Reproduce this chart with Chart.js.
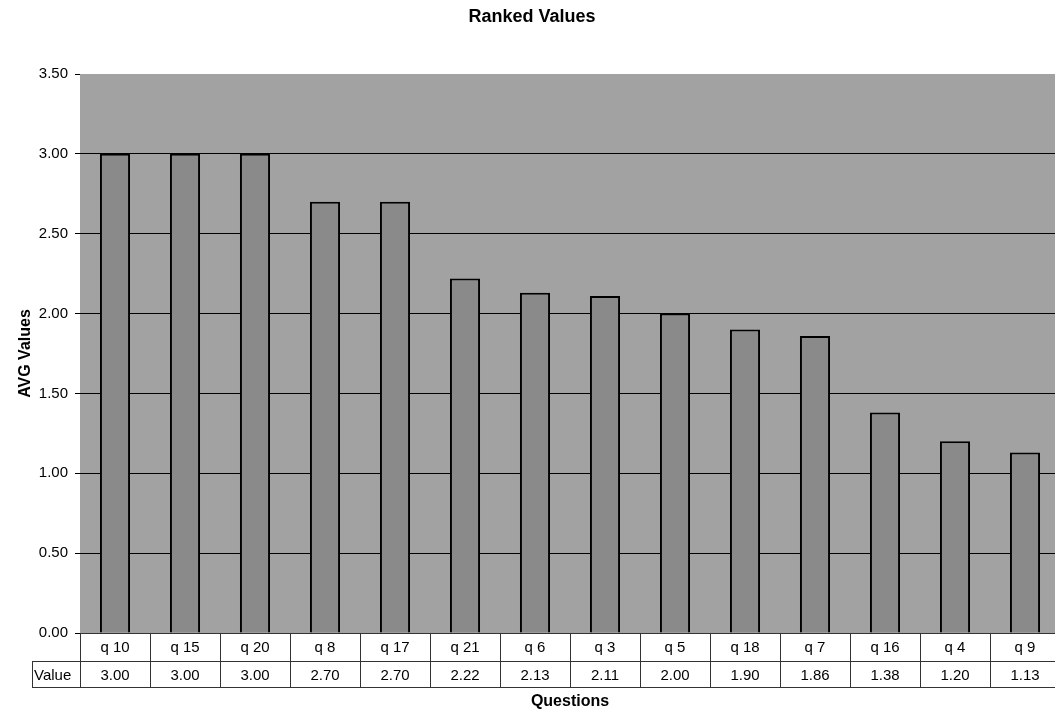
<!DOCTYPE html>
<html>
<head>
<meta charset="utf-8">
<script src="https://cdn.jsdelivr.net/npm/chart.js@4.4.0/dist/chart.umd.min.js"></script>
<style>
html,body{margin:0;padding:0;background:#fff;overflow:hidden;}
#wrap{width:1060px;height:711px;}
</style>
</head>
<body>
<div id="wrap"><canvas id="c" width="1060" height="711"></canvas></div>
<script>
const categories = ["q 10","q 15","q 20","q 8","q 17","q 21","q 6","q 3","q 5","q 18","q 7","q 16","q 4","q 9"];
const values = [3.00,3.00,3.00,2.70,2.70,2.22,2.13,2.11,2.00,1.90,1.86,1.38,1.20,1.13];
const seriesName = "Value";
const chartTitle = "Ranked Values";
const yTitle = "AVG Values";
const xTitle = "Questions";

const FONT = "Arial, 'Liberation Sans', sans-serif";

const plotBg = {
  id: 'plotBg',
  beforeDraw(chart) {
    const {ctx, chartArea: a} = chart;
    ctx.save();
    ctx.fillStyle = '#a2a2a2';
    ctx.fillRect(a.left, a.top, a.right - a.left, a.bottom - a.top);
    ctx.restore();
  }
};

const extras = {
  id: 'extras',
  afterDraw(chart) {
    const {ctx, chartArea: a} = chart;
    const x = chart.scales.x;
    ctx.save();
    ctx.fillStyle = '#000';
    ctx.textAlign = 'center';
    ctx.textBaseline = 'middle';
    ctx.font = 'bold 18px ' + FONT;
    ctx.fillText(chartTitle, 532, 17);
    ctx.font = 'bold 16px ' + FONT;
    ctx.fillText(xTitle, (a.left + a.right) / 2, 702);
    ctx.save();
    ctx.translate(26, (a.top + a.bottom) / 2);
    ctx.rotate(-Math.PI / 2);
    ctx.fillText(yTitle, 0, 0);
    ctx.restore();

    // data table
    const row1Top = a.bottom, row1Bot = a.bottom + 28, row2Bot = a.bottom + 54;
    const n = categories.length;
    const cw = (a.right - a.left) / n;
    ctx.strokeStyle = '#333';
    ctx.lineWidth = 1;
    ctx.beginPath();
    ctx.moveTo(a.left, row1Top + 0.5); ctx.lineTo(a.right, row1Top + 0.5);
    ctx.moveTo(32, row1Bot + 0.5); ctx.lineTo(a.right, row1Bot + 0.5);
    ctx.moveTo(32, row2Bot + 0.5); ctx.lineTo(a.right, row2Bot + 0.5);
    ctx.moveTo(32.5, row1Bot); ctx.lineTo(32.5, row2Bot);
    for (let i = 0; i <= n; i++) {
      const xx = Math.round(a.left + i * cw) + 0.5;
      ctx.moveTo(xx, row1Top); ctx.lineTo(xx, row2Bot);
    }
    ctx.stroke();

    ctx.font = '15px ' + FONT;
    ctx.fillStyle = '#000';
    ctx.textAlign = 'center';
    categories.forEach((c, i) => {
      const cx = x.getPixelForValue(i);
      ctx.fillText(c, cx, (row1Top + row1Bot) / 2 + 1);
      ctx.fillText(values[i].toFixed(2), cx, (row1Bot + row2Bot) / 2 + 2);
    });
    ctx.textAlign = 'left';
    ctx.fillText(seriesName, 34, (row1Bot + row2Bot) / 2 + 2);
    ctx.restore();
  }
};

new Chart(document.getElementById('c'), {
  type: 'bar',
  data: {
    labels: categories,
    datasets: [{
      label: seriesName,
      data: values,
      backgroundColor: '#8a8a8a',
      borderColor: '#000',
      borderWidth: 2,
      barPercentage: 0.43,
      categoryPercentage: 1.0
    }]
  },
  options: {
    responsive: false,
    animation: false,
    devicePixelRatio: 1,
    layout: { padding: { top: 74, right: 0, left: 0, bottom: 0 } },
    plugins: {
      legend: { display: false },
      title: { display: false },
      tooltip: { enabled: false }
    },
    scales: {
      x: {
        type: 'category',
        grid: { display: false, drawTicks: false },
        border: { display: false },
        ticks: { display: false },
        afterFit(scale) { scale.height = 78; }
      },
      y: {
        min: 0,
        max: 3.5,
        ticks: {
          stepSize: 0.5,
          color: '#000',
          font: { family: FONT, size: 15 },
          padding: 7,
          callback: v => Number(v).toFixed(2)
        },
        grid: {
          color: ctx => (ctx.tick && ctx.tick.value >= 3.5) ? 'rgba(0,0,0,0)' : '#000',
          lineWidth: 1,
          drawTicks: true,
          tickLength: 5,
          tickColor: '#000'
        },
        border: { display: false },
        afterFit(scale) { scale.width = 80; }
      }
    }
  },
  plugins: [plotBg, extras]
});
</script>
</body>
</html>
